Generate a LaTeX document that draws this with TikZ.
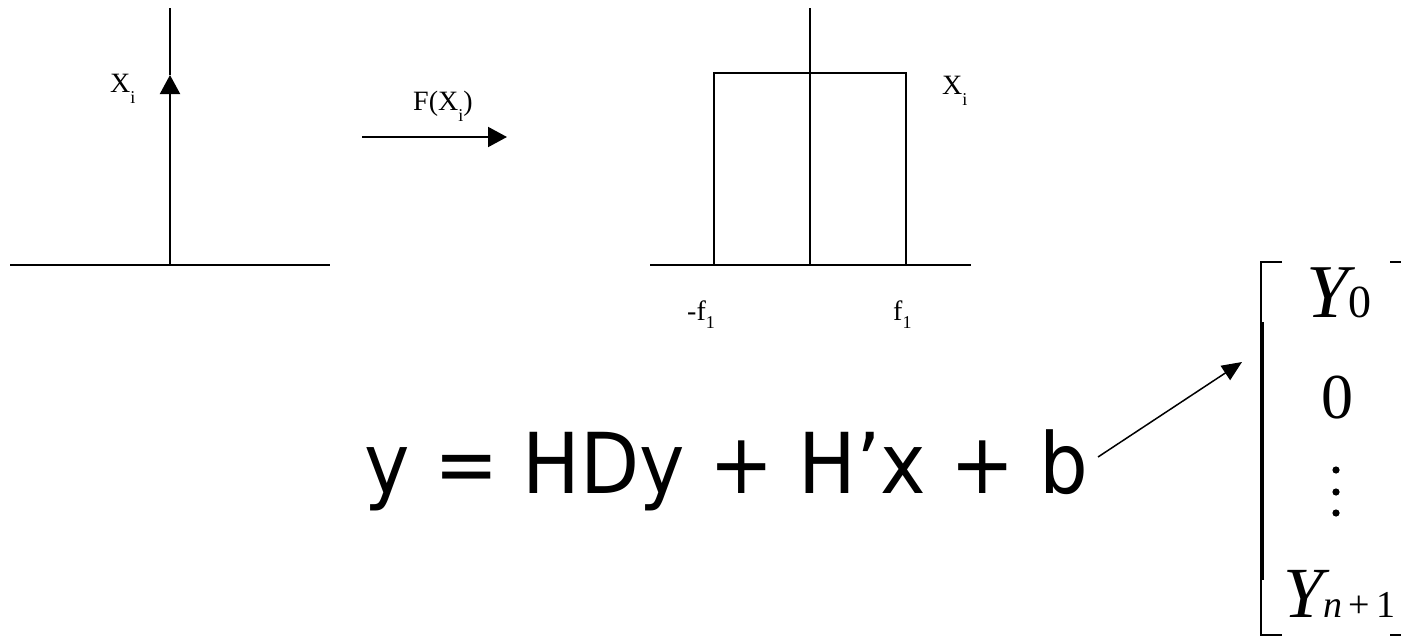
\documentclass[tikz,border=0pt]{standalone}
\usepackage{fontspec}
\setmainfont{Liberation Serif}
\newfontfamily\eqfont[FakeStretch=0.915]{DejaVu Sans}
\usetikzlibrary{arrows.meta}
\newcommand\lowsub[2][-0.4em]{\raisebox{#1}{\fontsize{18}{18}\selectfont #2}}
\begin{document}
\begin{tikzpicture}[x=1pt,y=-1pt,
  axis/.style={line width=2pt},
  bigtip/.style={-{Triangle[length=19pt,width=20pt]}},
  thintip/.style={line width=1.5pt,-{Triangle[length=20pt,width=17pt]}},
  lbl/.style={anchor=base west,inner sep=0pt,font=\fontsize{28}{28}\selectfont},
  eqtext/.style={anchor=base west,inner sep=0pt,font=\eqfont\fontsize{84}{84}\selectfont},
  brk/.style={line width=2pt},
  dotf/.style={fill=black}]
\useasboundingbox (0,0) rectangle (1401,637);
% left plot
\coordinate (la0) at (10,265); \coordinate (la1) at (330,265);
\coordinate (lv0) at (170,265); \coordinate (lvm) at (170,75); \coordinate (lv1) at (170,8);
\draw[axis] (la0) -- (la1);
\draw[axis,bigtip] (lv0) -- (lvm);
\draw[axis] (lvm) -- (lv1);
\node[lbl] (xl) at (110,92) {X\lowsub{i}};
% transform arrow
\coordinate (f0) at (362,137); \coordinate (f1) at (507,137);
\draw[axis,bigtip] (f0) -- (f1);
\node[lbl] (fx) at (413,110) {F(X\lowsub{i})};
% right plot
\coordinate (ra0) at (650,265); \coordinate (ra1) at (971,265);
\coordinate (rv0) at (810,265); \coordinate (rv1) at (810,8);
\draw[axis] (ra0) -- (ra1);
\draw[axis] (rv0) -- (rv1);
\draw[axis] (714,265) -- (714,73) -- (906,73) -- (906,265);
\node[lbl] (xr) at (942,94) {X\lowsub{i}};
\node[lbl] (mf) at (687,320) {-f\lowsub[-0.3em]{1}};
\node[lbl] (pf) at (893,320) {f\lowsub[-0.3em]{1}};
% equation
\node[eqtext] (eq) at (364,493) {y = HDy + H’x + b};
\coordinate (d0) at (1098,457); \coordinate (d1) at (1242,362);
\draw[thintip] (d0) -- (d1);
% matrix
\draw[brk] (1282,262) -- (1261,262) -- (1261,635) -- (1282,635);
\draw[line width=4pt] (1262,322) -- (1262,580);
\draw[brk] (1390,262) -- (1401,262);
\draw[brk] (1390,635) -- (1401,635);
\node[anchor=base west,inner sep=0pt] (y0) at (1306,317)
  {\fontsize{76}{76}\selectfont\itshape Y\upshape\fontsize{46}{46}\selectfont 0};
\node[anchor=base,inner sep=0pt] (zero) at (1337,418) {\fontsize{64}{64}\selectfont 0};
\fill[dotf] (1336,470) circle (3.6);
\fill[dotf] (1336,492) circle (3.6);
\fill[dotf] (1336,513) circle (3.6);
\node[anchor=base west,inner sep=0pt] (yn) at (1283,617)
  {\fontsize{72}{72}\selectfont\itshape Y\fontsize{38}{38}\selectfont n\upshape\,+\,1};
\end{tikzpicture}
\end{document}
